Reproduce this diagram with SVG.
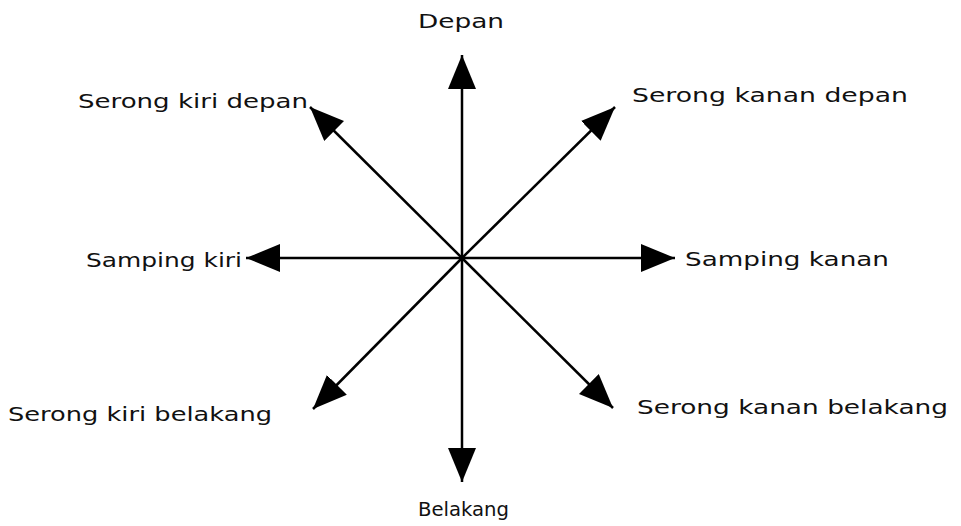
<svg xmlns="http://www.w3.org/2000/svg" width="961" height="526" viewBox="0 0 961 526">
<style>
.l{stroke:#000;stroke-width:2.5;fill:none;marker-end:url(#ah)}
text{font-family:"DejaVu Sans","Liberation Sans",sans-serif;font-size:20px;fill:#111}
</style>
<defs>
<marker id="ah" markerUnits="userSpaceOnUse" markerWidth="36" markerHeight="30" refX="34" refY="14" orient="auto" viewBox="0 0 36 30">
<path d="M0,0 L34,14 L0,28 z" fill="#000"/>
</marker>
</defs>
<rect width="961" height="526" fill="#fff"/>
<g id="connectors">
<line class="l" x1="462" y1="258" x2="462" y2="55"/>
<line class="l" x1="462" y1="258" x2="462" y2="482"/>
<line class="l" x1="462" y1="258" x2="246" y2="258"/>
<line class="l" x1="462" y1="258" x2="675" y2="258"/>
<line class="l" x1="462" y1="258" x2="310" y2="107"/>
<line class="l" x1="462" y1="258" x2="615" y2="107"/>
<line class="l" x1="462" y1="258" x2="313" y2="409"/>
<line class="l" x1="462" y1="258" x2="613" y2="408"/>
</g>
<g id="depan"><text x="418" y="28" textLength="86" lengthAdjust="spacingAndGlyphs">Depan</text></g>
<g id="serong-kiri-depan"><text x="78" y="108" textLength="230" lengthAdjust="spacingAndGlyphs">Serong kiri depan</text></g>
<g id="serong-kanan-depan"><text x="632" y="102" textLength="276" lengthAdjust="spacingAndGlyphs">Serong kanan depan</text></g>
<g id="samping-kiri"><text x="86" y="267" textLength="156" lengthAdjust="spacingAndGlyphs">Samping kiri</text></g>
<g id="samping-kanan"><text x="685" y="266" textLength="204" lengthAdjust="spacingAndGlyphs">Samping kanan</text></g>
<g id="serong-kiri-belakang"><text x="8" y="421" textLength="264" lengthAdjust="spacingAndGlyphs">Serong kiri belakang</text></g>
<g id="serong-kanan-belakang"><text x="637" y="414" textLength="311" lengthAdjust="spacingAndGlyphs">Serong kanan belakang</text></g>
<g id="belakang"><text x="418" y="516" textLength="91" lengthAdjust="spacingAndGlyphs">Belakang</text></g>
</svg>
